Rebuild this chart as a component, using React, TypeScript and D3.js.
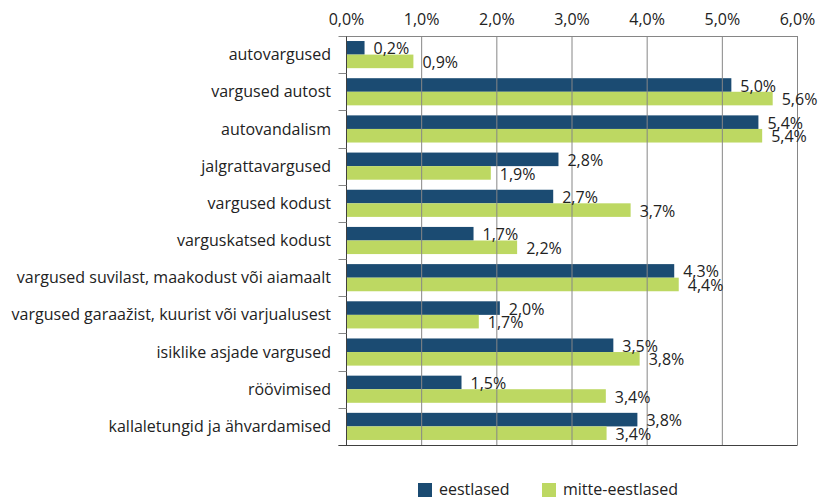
import * as d3 from 'd3';

const categories = [
  'autovargused',
  'vargused autost',
  'autovandalism',
  'jalgrattavargused',
  'vargused kodust',
  'varguskatsed kodust',
  'vargused suvilast, maakodust või aiamaalt',
  'vargused garaažist, kuurist või varjualusest',
  'isiklike asjade vargused',
  'röövimised',
  'kallaletungid ja ähvardamised',
];

const seriesNames = ['eestlased', 'mitte-eestlased'];

// bar lengths (percent)
const eestlased = [0.24, 5.12, 5.48, 2.82, 2.75, 1.69, 4.36, 2.04, 3.55, 1.53, 3.87];
const mitteEestlased = [0.89, 5.67, 5.53, 1.92, 3.78, 2.27, 4.42, 1.76, 3.9, 3.45, 3.46];

// value labels as printed
const eestlasedLabels = ['0,2%', '5,0%', '5,4%', '2,8%', '2,7%', '1,7%', '4,3%', '2,0%', '3,5%', '1,5%', '3,8%'];
const mitteEestlasedLabels = ['0,9%', '5,6%', '5,4%', '1,9%', '3,7%', '2,2%', '4,4%', '1,7%', '3,8%', '3,4%', '3,4%'];

const xTicks = [0, 1, 2, 3, 4, 5, 6];

const colors = ['#1b4b72', '#bdd862'];
const font = '"Open Sans", sans-serif';

const App = () => {
  const width = 823;
  const height = 497;
  const left = 346.5;
  const right = 797.5;
  const top = 36;
  const bottom = 445;

  const x = d3.scaleLinear().domain([0, 6]).range([left, right]);
  const y = d3.scaleBand<string>()
    .domain(categories)
    .range([top, bottom])
    .paddingInner(0.27)
    .paddingOuter(0.135);
  const sub = d3.scaleBand<string>()
    .domain(seriesNames)
    .range([0, y.bandwidth()]);

  const series = [
    { name: seriesNames[0], values: eestlased, labels: eestlasedLabels, color: colors[0] },
    { name: seriesNames[1], values: mitteEestlased, labels: mitteEestlasedLabels, color: colors[1] },
  ];

  const step = y.step();
  const boundaries = d3.range(categories.length + 1).map(i => top + i * step);

  return (
    <svg width={width} height={height} style={{ position: 'absolute', left: 0, top: 0 }} fontFamily={font}>
      <rect width={width} height={height} fill="#fff" />

      {/* bars */}
      {series.map(s => (
        <g key={s.name}>
          {categories.map((c, i) => (
            <rect
              key={c}
              x={x(0)}
              y={(y(c) ?? 0) + (sub(s.name) ?? 0)}
              width={x(s.values[i]) - x(0)}
              height={sub.bandwidth()}
              fill={s.color}
            />
          ))}
        </g>
      ))}

      {/* gridlines over bars */}
      {xTicks.map(t => (
        <line key={t} x1={x(t)} x2={x(t)} y1={top} y2={bottom} stroke="#868686" strokeWidth={1} />
      ))}
      <line x1={left} x2={right} y1={top + 0.5} y2={top + 0.5} stroke="#868686" />

      {/* left axis */}
      <line x1={left} x2={left} y1={top} y2={bottom} stroke="#404040" />
      {boundaries.map((b, i) => (
        <line key={i} x1={left - 8} x2={left} y1={Math.round(b) + 0.5} y2={Math.round(b) + 0.5} stroke="#868686" />
      ))}
      <line x1={left - 8} x2={right} y1={bottom + 0.5} y2={bottom + 0.5} stroke="#404040" />

      {/* x tick labels at top */}
      {xTicks.map(t => (
        <text key={t} x={x(t)} y={25} textAnchor="middle" fontSize={16} fill="#222">
          {d3.format('.1f')(t).replace('.', ',') + '%'}
        </text>
      ))}

      {/* category labels */}
      {categories.map(c => (
        <text key={c} x={331} y={(y(c) ?? 0) + y.bandwidth() / 2} dy="0.35em" textAnchor="end" fontSize={16} fill="#222">
          {c}
        </text>
      ))}

      {/* value labels */}
      {series.map(s => (
        <g key={s.name}>
          {categories.map((c, i) => (
            <text
              key={c}
              x={x(s.values[i]) + 9}
              y={(y(c) ?? 0) + (sub(s.name) ?? 0) + sub.bandwidth() / 2 + 1}
              dy="0.35em"
              fontSize={16}
              fill="#222"
            >
              {s.labels[i]}
            </text>
          ))}
        </g>
      ))}

      {/* legend */}
      {series.map((s, i) => {
        const lx = i === 0 ? 418 : 542;
        return (
          <g key={s.name}>
            <rect x={lx} y={483} width={14} height={14} fill={s.color} />
            <text x={lx + 21} y={489} dy="0.35em" fontSize={16} fill="#222">{s.name}</text>
          </g>
        );
      })}
    </svg>
  );
};

export default App;
